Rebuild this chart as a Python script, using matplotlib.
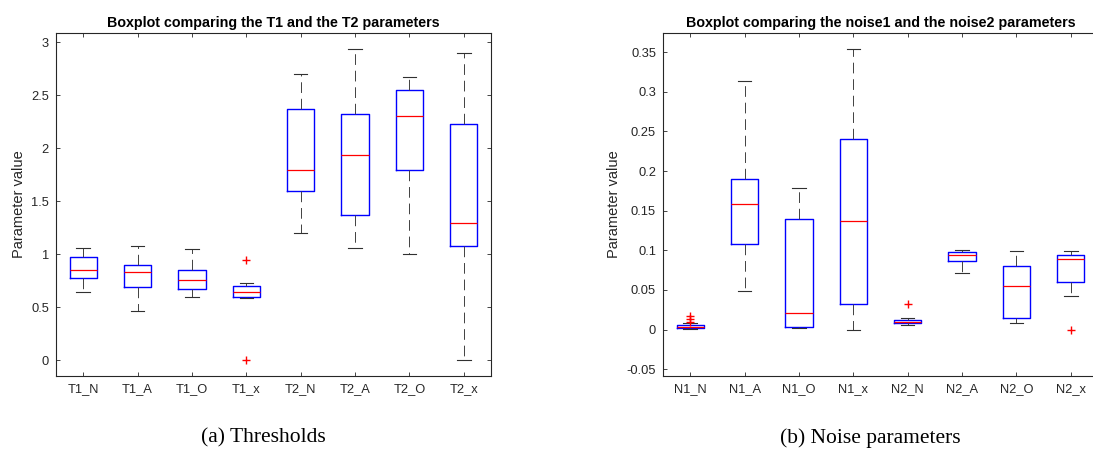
import matplotlib
matplotlib.use("Agg")
import matplotlib.pyplot as plt

plt.rcParams['font.family'] = ['Liberation Sans', 'DejaVu Sans']

# thresholds
t_labels = ['T1_N', 'T1_A', 'T1_O', 'T1_x', 'T2_N', 'T2_A', 'T2_O', 'T2_x']
t_q1 = [0.774, 0.690, 0.677, 0.599, 1.596, 1.370, 1.799, 1.075]
t_med = [0.853, 0.831, 0.762, 0.643, 1.796, 1.937, 2.307, 1.295]
t_q3 = [0.972, 0.900, 0.856, 0.702, 2.367, 2.323, 2.549, 2.226]
t_lo = [0.646, 0.467, 0.602, 0.592, 1.201, 1.063, 1.003, 0.0]
t_hi = [1.063, 1.075, 1.047, 0.730, 2.705, 2.937, 2.671, 2.903]
t_fliers = [[], [], [], [0.947, 0.0], [], [], [], []]
t_ticks = [0, 0.5, 1, 1.5, 2, 2.5, 3]
t_ticklabels = ['0', '0.5', '1', '1.5', '2', '2.5', '3']

# noise parameters
n_labels = ['N1_N', 'N1_A', 'N1_O', 'N1_x', 'N2_N', 'N2_A', 'N2_O', 'N2_x']
n_q1 = [0.0017, 0.108, 0.003, 0.0323, 0.008, 0.0869, 0.0147, 0.060]
n_med = [0.003, 0.158, 0.0206, 0.137, 0.0092, 0.0936, 0.0554, 0.0894]
n_q3 = [0.0055, 0.1905, 0.140, 0.240, 0.0126, 0.0978, 0.080, 0.0944]
n_lo = [0.0008, 0.0487, 0.0017, 0.0, 0.0055, 0.0713, 0.0084, 0.0424]
n_hi = [0.0084, 0.314, 0.178, 0.3546, 0.0147, 0.1003, 0.099, 0.0995]
n_fliers = [[0.017, 0.013, 0.009], [], [], [], [0.0319], [], [], [0.0]]
n_ticks = [-0.05, 0, 0.05, 0.1, 0.15, 0.2, 0.25, 0.3, 0.35]
n_ticklabels = ['-0.05', '0', '0.05', '0.1', '0.15', '0.2', '0.25', '0.3', '0.35']

AX_COLOR = '#262626'


def make_stats(labels, q1, med, q3, lo, hi, fliers):
    stats = []
    for i in range(len(labels)):
        stats.append(dict(label=labels[i], q1=q1[i], med=med[i], q3=q3[i],
                          whislo=lo[i], whishi=hi[i], fliers=fliers[i]))
    return stats


def draw_box(ax, stats, title, ticks, ticklabels, ylim, ylabel_x):
    ax.bxp(stats, widths=0.5, capwidths=0.25, showfliers=True,
           boxprops=dict(color='blue', lw=1.0),
           medianprops=dict(color='red', lw=0.9),
           whiskerprops=dict(color='#404040', lw=0.7, ls=(0, (11, 6))),
           capprops=dict(color='#303030', lw=0.8),
           flierprops=dict(marker='+', markeredgecolor='red', markersize=6,
                           markeredgewidth=1.0, linestyle='none'))
    ax.set_xlim(0.5, len(stats) + 0.5)
    ax.set_ylim(*ylim)
    ax.set_yticks(ticks)
    ax.set_yticklabels(ticklabels)
    ax.tick_params(direction='in', length=3.2, width=0.6, colors=AX_COLOR,
                   labelsize=9.3, top=True, right=True, pad=5)
    for sp in ax.spines.values():
        sp.set_color(AX_COLOR)
        sp.set_linewidth(0.8)
    ax.set_title(title, fontsize=10.3, fontweight='bold', pad=4)
    ax.set_ylabel('Parameter value', fontsize=10.5, color=AX_COLOR)
    ax.yaxis.set_label_coords(ylabel_x, 0.5)


fig = plt.figure(figsize=(10.93, 4.55), dpi=100)
ax1 = fig.add_axes([56 / 1093, 79 / 455, 435 / 1093, 343 / 455])
ax2 = fig.add_axes([663 / 1093, 79 / 455, 435 / 1093, 343 / 455])

draw_box(ax1, make_stats(t_labels, t_q1, t_med, t_q3, t_lo, t_hi, t_fliers),
         'Boxplot comparing the T1 and the T2 parameters',
         t_ticks, t_ticklabels, (-0.147, 3.088), -0.069)
draw_box(ax2, make_stats(n_labels, n_q1, n_med, n_q3, n_lo, n_hi, n_fliers),
         'Boxplot comparing the noise1 and the noise2 parameters',
         n_ticks, n_ticklabels, (-0.0587, 0.3743), -0.097)

fig.text(263 / 1093, 1 - 438 / 455, '(a) Thresholds', family='Liberation Serif',
         fontsize=15.5, ha='center', va='center')
fig.text(870 / 1093, 1 - 438 / 455, '(b) Noise parameters', family='Liberation Serif',
         fontsize=15.5, ha='center', va='center')

fig.savefig('out.png', dpi=100)
